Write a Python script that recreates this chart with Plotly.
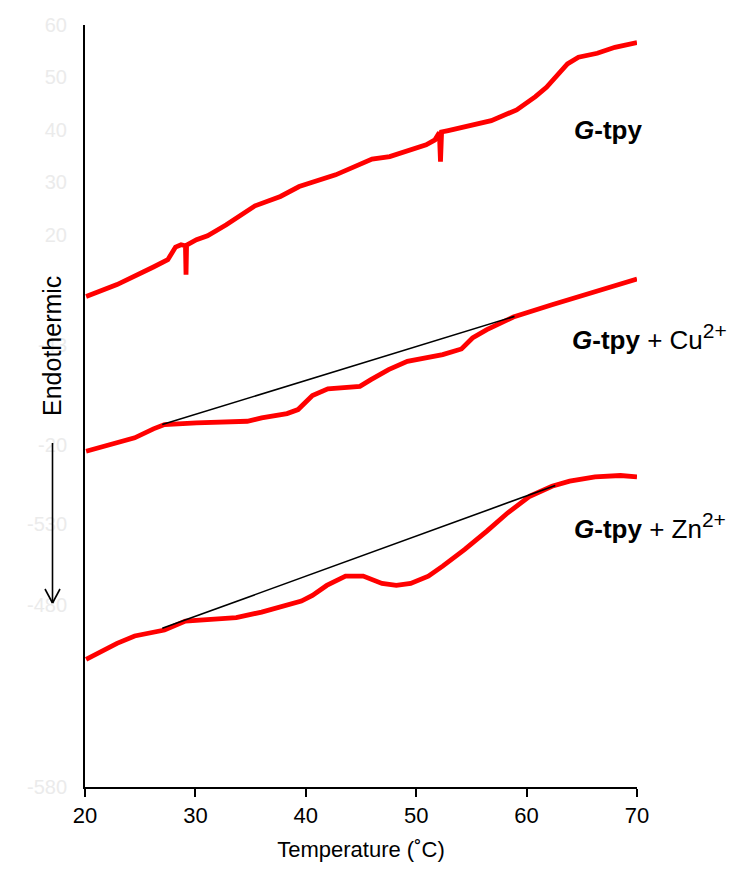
import plotly.graph_objects as go

# ---- data ----
t_free = [20.1, 22.9, 26.2, 27.5, 28.2, 28.7, 29.1, 29.15, 29.2, 30.1, 31.1, 32.8, 35.4, 37.7, 39.4,
          42.7, 46.0, 47.6, 50.9, 51.7, 52.1, 52.2, 52.3, 52.9, 54.5, 56.8, 59.1, 60.8, 61.8, 63.7,
          64.7, 66.4, 68.0, 70.0]
y_free = [8.25, 10.5, 13.85, 15.24, 17.66, 18.1, 17.9, 12.4, 18.0, 19.05, 19.81, 21.9, 25.52, 27.3,
          29.2, 31.43, 34.42, 34.91, 37.14, 38.1, 39.49, 33.96, 39.6, 39.87, 40.63, 41.77, 43.81,
          46.34, 48.13, 52.57, 53.85, 54.61, 55.75, 56.63]

t_cu = [20.1, 22.9, 24.5, 26.2, 27.2, 30.1, 34.7, 36.0, 38.3, 39.3, 40.6, 42.0, 43.9, 44.9, 45.9,
        47.5, 49.2, 50.8, 52.4, 54.1, 55.1, 56.4, 57.4, 58.8, 62.3, 65.6, 70.0]
y_cu = [-21.28, -19.56, -18.72, -17.01, -16.19, -15.87, -15.56, -14.91, -14.10, -13.33, -10.67,
        -9.39, -9.20, -8.90, -7.62, -5.71, -4.13, -3.49, -2.86, -1.77, 0.32, 1.90, 2.86, 4.32,
        6.67, 8.76, 11.56]
t_cu_base = [27.0, 58.9]
y_cu_base = [-16.19, 4.44]

t_zn = [20.1, 21.6, 22.9, 24.5, 27.2, 29.1, 31.4, 33.7, 36.0, 38.0, 39.6, 40.6, 41.9, 43.6, 45.2,
        46.9, 48.2, 49.5, 51.1, 52.4, 54.4, 56.4, 58.3, 60.3, 62.3, 63.9, 66.2, 68.5, 70.0]
y_zn = [-60.95, -59.37, -57.90, -56.51, -55.37, -53.66, -53.33, -53.01, -51.94, -50.67, -49.85,
        -48.76, -46.86, -45.09, -45.09, -46.48, -46.86, -46.48, -45.09, -43.18, -40.0, -36.51,
        -33.01, -29.85, -27.94, -26.99, -26.15, -25.90, -26.15]
t_zn_base = [27.0, 62.6]
y_zn_base = [-55.05, -27.81]

x_ticks = [20, 30, 40, 50, 60, 70]
y_tickvals = [60, 50, 40, 30, 20, -1, -20, -35.2, -50.5, -85.3]
y_ticktext = ["60", "50", "40", "30", "20", "-43", "-20", "-530", "-480", "-580"]

SUP = '<sup><span style="font-size:21px">2+</span></sup>'
labels = ["<b><i>G</i>-tpy</b>",
          "<b><i>G</i>-tpy</b> + Cu" + SUP,
          "<b><i>G</i>-tpy</b> + Zn" + SUP]
label_x = [64.1, 63.9, 64.1]
label_y = [40.0, 0.6, -35.5]

# ---- figure ----
OFF = 8  # default page body margin
W, H = 746 - 2 * OFF, 870 - 2 * OFF
L, R, T, B = 77, 101, 17, 75
FONT = "Liberation Sans, Arial, sans-serif"

fig = go.Figure()
red = dict(color="#ff0000", width=4.8)
fig.add_trace(go.Scatter(x=t_free, y=y_free, mode="lines", line=red))
fig.add_trace(go.Scatter(x=t_cu, y=y_cu, mode="lines", line=red))
fig.add_trace(go.Scatter(x=t_zn, y=y_zn, mode="lines", line=red))
blk = dict(color="black", width=1.6)
fig.add_trace(go.Scatter(x=t_cu_base, y=y_cu_base, mode="lines", line=blk))
fig.add_trace(go.Scatter(x=t_zn_base, y=y_zn_base, mode="lines", line=blk))

for txt, lx, ly in zip(labels, label_x, label_y):
    fig.add_annotation(x=lx, y=ly, xref="x", yref="y", text=txt, showarrow=False,
                       xanchor="left", yanchor="middle",
                       font=dict(family=FONT, size=26, color="black"))

pw, ph = W - L - R, H - T - B
def px(xp):
    return (xp - OFF - L) / pw
def py(yp):
    return (H - B - (yp - OFF)) / ph

fig.add_annotation(x=px(52), y=py(346), xref="paper", yref="paper", text="Endothermic",
                   showarrow=False, textangle=-90, xanchor="center", yanchor="middle",
                   font=dict(family=FONT, size=25, color="black"))
arrow = dict(color="black", width=1.6)
fig.add_shape(type="line", xref="paper", yref="paper", x0=px(52.5), y0=py(443), x1=px(52.5), y1=py(603), line=arrow)
fig.add_shape(type="line", xref="paper", yref="paper", x0=px(45), y0=py(589), x1=px(52.5), y1=py(603), line=arrow)
fig.add_shape(type="line", xref="paper", yref="paper", x0=px(60), y0=py(589), x1=px(52.5), y1=py(603), line=arrow)

fig.update_layout(
    width=W, height=H, margin=dict(l=L, r=R, t=T, b=B, autoexpand=False),
    paper_bgcolor="white", plot_bgcolor="white", showlegend=False,
    font=dict(family=FONT, color="black"),
)
fig.update_xaxes(range=[20, 70], tickvals=x_ticks, ticks="outside", ticklen=8, tickwidth=1.6,
                 tickcolor="black", showline=True, linecolor="black", linewidth=2,
                 showgrid=False, zeroline=False, tickfont=dict(size=22, family=FONT),
                 automargin=False,
                 title=dict(text="Temperature (˚C)", font=dict(size=22, family=FONT), standoff=14))
fig.update_yaxes(range=[-85.3, 60], tickvals=y_tickvals, ticktext=y_ticktext, ticks="",
                 showline=True, linecolor="black", linewidth=2, showgrid=False, zeroline=False,
                 automargin=False,
                 tickfont=dict(size=20, family=FONT, color="#ebebeb"), ticklabelstandoff=12)

fig.write_html("out.html")
